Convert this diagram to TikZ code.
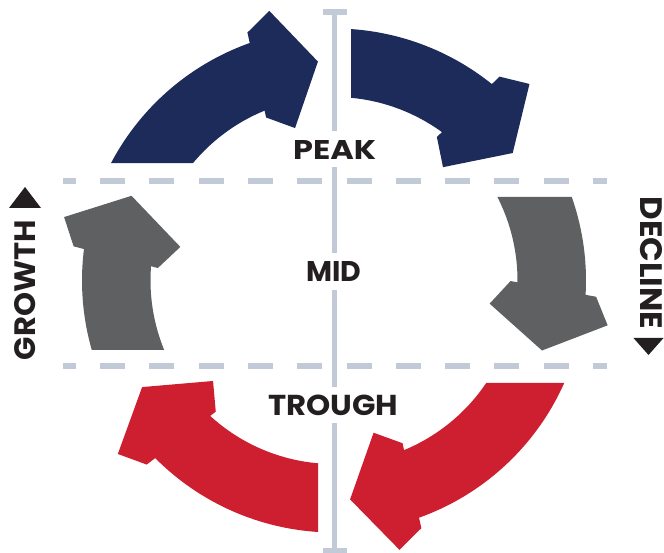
\documentclass[tikz,border=0pt]{standalone}
\usepackage{graphicx}
\usepackage{fontspec}
\setmainfont{Poppins}
\usetikzlibrary{calc}
\definecolor{cnavy}{RGB}{29,43,91}
\definecolor{cslate}{RGB}{95,96,98}
\definecolor{ccrimson}{RGB}{206,31,48}
\definecolor{cguide}{RGB}{194,202,215}
\definecolor{cink}{RGB}{35,31,32}
\def\ro{252}
\def\ri{183.5}
\def\rh{219.5}
% #1 style, #2 outer tail angle, #3 inner tail angle, #4 head base angle, #5 tip angle, #6 name
\newcommand{\cycarrow}[6]{%
  \fill[#1] (#2:\ro) arc[start angle=#2, end angle={#4-3}, radius=\ro]
    -- ({#4-3}:\ri) arc[start angle={#4-3}, end angle=#3, radius=\ri] -- cycle;
  \coordinate (#6M) at (#4:\rh);
  \coordinate (#6T) at (#5:\rh);
  \coordinate (#6P) at ($(#6M)!26pt!(#6T)$);
  \fill[#1] ($(#6M)!43.5pt!90:(#6T)$) -- ($(#6P)!60pt!90:(#6T)$) -- (#6T)
    -- ($(#6P)!60pt!-90:(#6T)$) -- ($(#6M)!43.5pt!-90:(#6T)$) -- cycle;
}
% fitted label text: #1 width, #2 height, #3 text
\newcommand{\fitlabel}[3]{\resizebox{#1}{#2}{\bfseries #3}}
\begin{document}
\begin{tikzpicture}[x=1pt,y=1pt,
  guideline/.style={draw=cguide, line width=6pt, dash pattern=on 25pt off 24.3pt, dash phase=12pt},
  axisline/.style={draw=cguide, line width=5pt},
  axiscap/.style={fill=cguide},
  phase/.style={text=cink, fill=white,
    inner xsep=5pt, inner ysep=0pt, text height=28.5pt, text depth=8pt, anchor=base},
  sidelabel/.style={text=cink, inner sep=0pt},
  marker/.style={fill=cink},
  navyarrow/.style={fill=cnavy},
  slatearrow/.style={fill=cslate},
  redarrow/.style={fill=ccrimson}]
\useasboundingbox (0,0) rectangle (664,553);
% guides
\draw[guideline] (62.7,371.5) coordinate (gt1) -- (606.7,371.5) coordinate (gt2);
\draw[guideline] (62.7,187) coordinate (gb1) -- (606.7,187) coordinate (gb2);
\coordinate (atop) at (334.5,544);
\coordinate (abot) at (334.5,1);
\draw[axisline] (atop) -- (abot);
\fill[axiscap] (322.7,538.3) rectangle (346.7,544);
\fill[axiscap] (322.7,0.3) rectangle (346.7,5.3);
% phase labels
\node[phase] (peak) at (334.7,393.7) {\fitlabel{83pt}{19pt}{PEAK}};
\node[phase] (mid) at (334,271.3) {\fitlabel{55pt}{20pt}{MID}};
\node[phase] (trough) at (333.3,137.5) {\fitlabel{130pt}{20.5pt}{TROUGH}};
% side labels
\node[sidelabel, rotate=90] (growth) at (24.8,263) {\fitlabel{140pt}{21pt}{GROWTH}};
\fill[marker] (25,366) -- (9,345) -- (41,345) -- cycle;
\node[sidelabel, rotate=-90] (decline) at (651,290) {\fitlabel{132.6pt}{22pt}{DECLINE}};
\fill[marker] (648.5,198) -- (633.5,215) -- (663.5,215) -- cycle;
% cycle arrows
\begin{scope}[shift={(334,272.5)}]
\cycarrow{navyarrow}{152.21}{140.19}{110.6}{94.2}{ntl}
\cycarrow{navyarrow}{86.13}{84.68}{52.3}{35.5}{ntr}
\cycarrow{slatearrow}{19.35}{27.07}{-2.2}{-18.6}{gr}
\cycarrow{redarrow}{-24.0}{-33.96}{-69.2}{-85.8}{rbr}
\cycarrow{redarrow}{266.36}{265.0}{225.9}{209.05}{rbl}
\cycarrow{slatearrow}{196.01}{202.26}{173.9}{157.3}{gl}
\end{scope}
\end{tikzpicture}
\end{document}
